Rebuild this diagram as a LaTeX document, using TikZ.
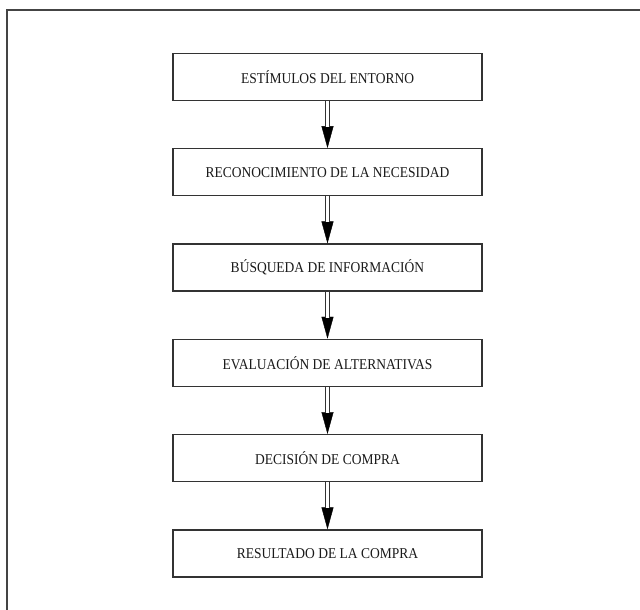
\documentclass[tikz,border=0pt]{standalone}
\usepackage{fontspec}
\setmainfont{Liberation Serif}[FakeStretch=0.9]
\usepackage{tikz}
\usetikzlibrary{
  arrows.meta,
  positioning
}
\definecolor{pfLine}{HTML}{333333}
\definecolor{pfText}{HTML}{1A1A1A}
\definecolor{pfFrame}{HTML}{444444}
\tikzset{
  pfstage/.style={
    draw=pfLine, line width=1.3pt, fill=white, text=pfText,
    minimum width=309pt, minimum height=47pt, inner sep=0pt,
    font=\fontsize{15}{18}\selectfont
  },
  pfhead/.style={-{Triangle[length=22pt, width=12pt]}, line width=0.4pt, black},
  pfshaft/.style={double=white, double distance=3.4pt, line width=0.9pt, draw=pfLine, shorten >=21pt},
  pfframe/.style={line width=1.5pt, draw=pfFrame}
}

\begin{document}
\begin{tikzpicture}[x=1pt, y=-1pt, node distance=47pt]
  \useasboundingbox (0,0) rectangle (640,610);
  % page frame
  \draw[pfframe] (7,610) -- (7,10) -- (640,10);
  % stages
  \node[pfstage] (s1) at (327.5,77) {ESTÍMULOS DEL ENTORNO};
  \node[pfstage, below=of s1] (s2) {RECONOCIMIENTO DE LA NECESIDAD};
  \node[pfstage, below=of s2] (s3) {BÚSQUEDA DE INFORMACIÓN};
  \node[pfstage, below=of s3] (s4) {EVALUACIÓN DE ALTERNATIVAS};
  \node[pfstage, below=of s4] (s5) {DECISIÓN DE COMPRA};
  \node[pfstage, below=of s5] (s6) {RESULTADO DE LA COMPRA};
  % arrows
  \foreach \a/\b in {s1/s2, s2/s3, s3/s4, s4/s5, s5/s6} {
    \draw[pfhead]  (\a.south) -- (\b.north);
    \draw[pfshaft] (\a.south) -- (\b.north);
  }
\end{tikzpicture}
\end{document}
